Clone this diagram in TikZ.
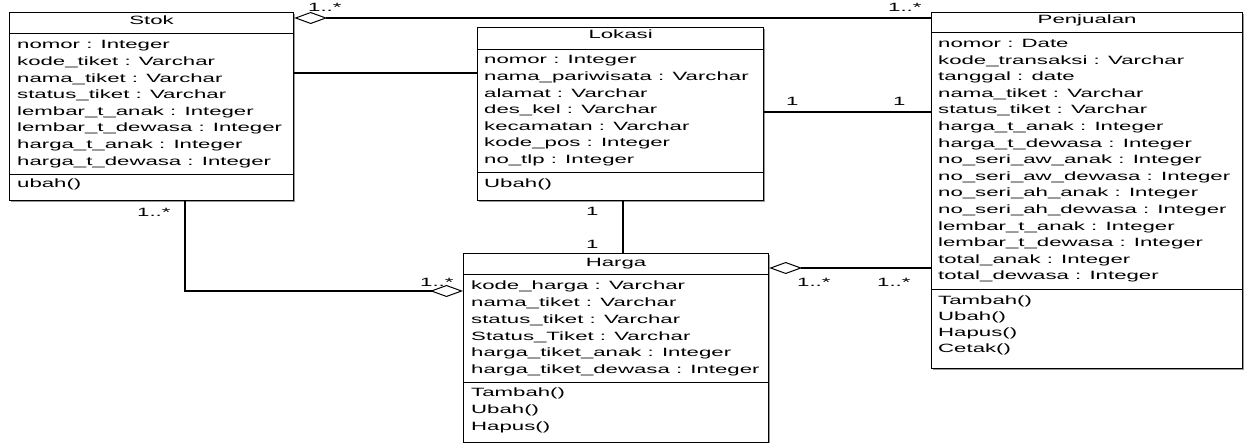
\documentclass[tikz,border=0pt]{standalone}
\usepackage{fontspec}
\setmainfont{Liberation Sans}[FakeStretch=1.85]
\usetikzlibrary{arrows.meta,shadows}
\begin{document}
\begin{tikzpicture}[x=1pt,y=-1pt,
  cls/.style={draw, line width=1.2pt, fill=white, inner sep=0pt, anchor=north west,
    drop shadow={shadow xshift=1.5pt, shadow yshift=-1.5pt, fill=black!40, opacity=1}},
  sepline/.style={line width=1pt},
  txt/.style={anchor=base west, inner sep=0pt, font=\fontsize{12}{14}\selectfont},
  ttl/.style={anchor=base, inner sep=0pt, font=\fontsize{12}{14}\selectfont},
  lbl/.style={anchor=base west, inner sep=0pt, font=\fontsize{12}{14}\selectfont},
  conn/.style={line width=1.1pt},
  agg/.style={conn, -{Diamond[open, length=33pt, width=12pt, line width=1pt]}},
]
\useasboundingbox (0,0) rectangle (1245,443);

% class boxes
\node[cls, minimum width=284pt, minimum height=188pt] (stok) at (9,12) {};
\node[cls, minimum width=286pt, minimum height=173pt] (lok) at (477,27) {};
\node[cls, minimum width=311pt, minimum height=356pt] (pen) at (931,12) {};
\node[cls, minimum width=305pt, minimum height=189pt] (har) at (463,253) {};

% compartments
\draw[sepline] (stok.west |- 0,34) -- (stok.east |- 0,34);
\draw[sepline] (stok.west |- 0,175) -- (stok.east |- 0,175);
\draw[sepline] (lok.west |- 0,50) -- (lok.east |- 0,50);
\draw[sepline] (lok.west |- 0,173) -- (lok.east |- 0,173);
\draw[sepline] (pen.west |- 0,33) -- (pen.east |- 0,33);
\draw[sepline] (pen.west |- 0,290) -- (pen.east |- 0,290);
\draw[sepline] (har.west |- 0,275) -- (har.east |- 0,275);
\draw[sepline] (har.west |- 0,383) -- (har.east |- 0,383);

% titles
\node[ttl] (stok-t) at (stok.north |- 0,25) {Stok};
\node[ttl] (lok-t) at (lok.north |- 0,39) {Lokasi};
\node[ttl] (pen-t) at (pen.north |- 0,24) {Penjualan};
\node[ttl] (har-t) at (har.north |- 0,266.5) {Harga};

% Stok
\foreach \t [count=\i from 0] in {nomor : Integer, kode\_tiket : Varchar, nama\_tiket : Varchar, status\_tiket : Varchar, lembar\_t\_anak : Integer, lembar\_t\_dewasa : Integer, harga\_t\_anak : Integer, harga\_t\_dewasa : Integer}
  \node[txt] (stok-a\i) at (17,49+16.6*\i) {\t};
\node[txt] (stok-m0) at (17,188) {ubah()};

% Lokasi
\foreach \t [count=\i from 0] in {nomor : Integer, nama\_pariwisata : Varchar, alamat : Varchar, des\_kel : Varchar, kecamatan : Varchar, kode\_pos : Integer, no\_tlp : Integer}
  \node[txt] (lok-a\i) at (484,64+16.6*\i) {\t};
\node[txt] (lok-m0) at (484,188) {Ubah()};

% Penjualan
\foreach \t [count=\i from 0] in {nomor : Date, kode\_transaksi : Varchar, tanggal : date, nama\_tiket : Varchar, status\_tiket : Varchar, harga\_t\_anak : Integer, harga\_t\_dewasa : Integer, no\_seri\_aw\_anak : Integer, no\_seri\_aw\_dewasa : Integer, no\_seri\_ah\_anak : Integer, no\_seri\_ah\_dewasa : Integer, lembar\_t\_anak : Integer, lembar\_t\_dewasa : Integer, total\_anak : Integer, total\_dewasa : Integer}
  \node[txt] (pen-a\i) at (938,47.5+16.6*\i) {\t};
\foreach \t [count=\i from 0] in {Tambah(), Ubah(), Hapus(), Cetak()}
  \node[txt] (pen-m\i) at (938,305+15.8*\i) {\t};

% Harga
\foreach \t [count=\i from 0] in {kode\_harga : Varchar, nama\_tiket : Varchar, status\_tiket : Varchar, Status\_Tiket : Varchar, harga\_tiket\_anak : Integer, harga\_tiket\_dewasa : Integer}
  \node[txt] (har-a\i) at (471,290+16.7*\i) {\t};
\foreach \t [count=\i from 0] in {Tambah(), Ubah(), Hapus()}
  \node[txt] (har-m\i) at (471,397+16.5*\i) {\t};

% connectors
\draw[conn] (stok.east |- 0,73) -- (lok.west |- 0,73);
\draw[agg] (pen.west |- 0,18) -- (stok.east |- 0,18);
\draw[conn] (lok.east |- 0,112) -- (pen.west |- 0,112);
\draw[conn] (lok.south -| 623,0) -- (har.north -| 623,0);
\draw[agg] (stok.south -| 185,0) |- (har.west |- 0,291);
\draw[agg] (pen.west |- 0,268) -- (har.east |- 0,268);

% multiplicities
\node[lbl] (m1) at (308,12) {1..*};
\node[lbl] (m2) at (888,12) {1..*};
\node[lbl] (m3) at (786,106) {1};
\node[lbl] (m4) at (893,106) {1};
\node[lbl] (m5) at (586,216) {1};
\node[lbl] (m6) at (586,249) {1};
\node[lbl] (m7) at (137,217) {1..*};
\node[lbl] (m8) at (420,287) {1..*};
\node[lbl] (m9) at (797,287) {1..*};
\node[lbl] (m10) at (877,287) {1..*};
\end{tikzpicture}
\end{document}
